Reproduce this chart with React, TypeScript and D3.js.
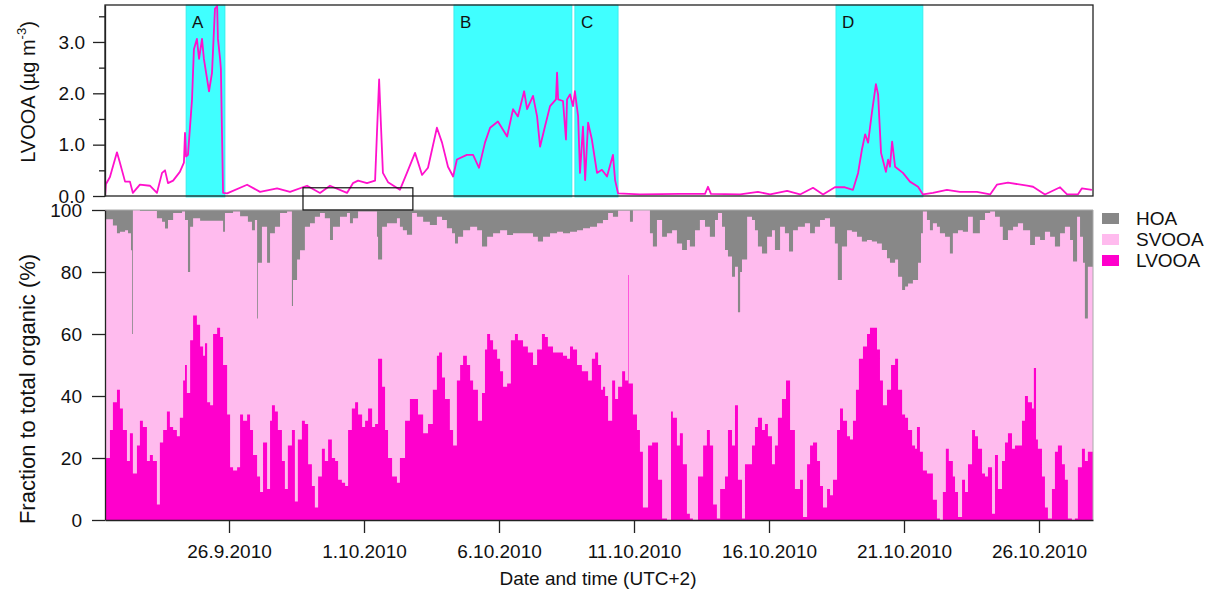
import React, { useEffect, useRef } from "react";
import * as d3 from "d3";

// time = days after 21.9.2010 00:00 (UTC+2)
const lvooaConc: [number, number][] = [
  [0.41, 0.0], [0.44, 0.23], [0.59, 0.37], [0.85, 0.85], [0.96, 0.65], [1.15, 0.28], [1.33, 0.28],
  [1.44, 0.06], [1.7, 0.22], [2.07, 0.2], [2.33, 0.06], [2.52, 0.45], [2.63, 0.5],
  [2.74, 0.25], [2.93, 0.3], [3.18, 0.47], [3.33, 0.65], [3.37, 1.23], [3.41, 0.77],
  [3.48, 0.8], [3.63, 1.88], [3.7, 2.86], [3.81, 3.06], [3.89, 2.67], [4.0, 3.06],
  [4.07, 2.67], [4.19, 2.27], [4.26, 2.04], [4.37, 2.4], [4.48, 3.65], [4.56, 3.7],
  [4.59, 3.06], [4.67, 2.67], [4.7, 2.47], [4.74, 1.23], [4.78, 0.06], [4.93, 0.05],
  [5.67, 0.22], [6.15, 0.08], [6.78, 0.15], [7.26, 0.08], [7.89, 0.2], [8.37, 0.06],
  [8.74, 0.2], [9.37, 0.06], [9.59, 0.25], [9.78, 0.3], [10.11, 0.25], [10.41, 0.3],
  [10.48, 1.23], [10.56, 2.27], [10.63, 1.35], [10.7, 0.45], [10.89, 0.27], [11.33, 0.12],
  [11.59, 0.45], [11.89, 0.84], [12.15, 0.41], [12.37, 0.55], [12.7, 1.33], [12.89, 1.04],
  [13.11, 0.57], [13.3, 0.38], [13.44, 0.71], [13.81, 0.8], [14.04, 0.8], [14.26, 0.55],
  [14.48, 1.04], [14.67, 1.33], [14.96, 1.45], [15.3, 1.16], [15.52, 1.69], [15.7, 1.55],
  [15.93, 2.04], [16.04, 1.69], [16.26, 1.95], [16.41, 1.55], [16.52, 0.96], [16.7, 1.35],
  [16.89, 1.75], [17.11, 1.88], [17.15, 2.4], [17.19, 1.88], [17.37, 1.85], [17.48, 1.1],
  [17.52, 1.88], [17.63, 1.98], [17.74, 1.75], [17.81, 2.04], [17.93, 1.55], [18.0, 0.45],
  [18.11, 1.35], [18.19, 0.31], [18.3, 1.43], [18.44, 1.1], [18.63, 0.45], [18.81, 0.51],
  [19.0, 0.38], [19.22, 0.8], [19.3, 0.31], [19.41, 0.05], [20.22, 0.03], [21.7, 0.04],
  [22.63, 0.04], [22.74, 0.18], [22.85, 0.04], [23.93, 0.03], [24.59, 0.08], [25.04, 0.03],
  [25.67, 0.1], [26.15, 0.03], [26.63, 0.16], [27.0, 0.03], [27.44, 0.17], [27.81, 0.17],
  [28.11, 0.12], [28.3, 0.45], [28.44, 0.9], [28.56, 1.2], [28.67, 1.04], [28.81, 1.62],
  [28.96, 2.18], [29.04, 1.98], [29.15, 0.84], [29.33, 0.47], [29.41, 0.71], [29.48, 0.57],
  [29.56, 1.06], [29.67, 0.57], [29.96, 0.45], [30.22, 0.28], [30.52, 0.18], [30.7, 0.03],
  [31.07, 0.06], [31.59, 0.12], [32.07, 0.08], [32.7, 0.08], [33.19, 0.03], [33.44, 0.22],
  [33.85, 0.26], [34.56, 0.2], [34.78, 0.18], [35.22, 0.03], [35.78, 0.17], [36.04, 0.03],
  [36.44, 0.03], [36.59, 0.15], [36.96, 0.12],
];

const lvooaFrac: [number, number][] = [
  [0.44, 20], [0.59, 29], [0.7, 38], [0.85, 42], [0.96, 36], [1.07, 29], [1.22, 19],
  [1.33, 28], [1.44, 15], [1.59, 24], [1.7, 32], [1.81, 30], [1.96, 19], [2.07, 21],
  [2.18, 19], [2.33, 5], [2.44, 25], [2.56, 29], [2.7, 35], [2.81, 30], [2.93, 29],
  [3.07, 27], [3.18, 33], [3.3, 45], [3.37, 50], [3.44, 41], [3.56, 58], [3.67, 66],
  [3.81, 63], [3.93, 56], [4.04, 53], [4.11, 57], [4.19, 38], [4.3, 37], [4.41, 60],
  [4.56, 62], [4.67, 59], [4.78, 50], [4.93, 34], [5.04, 17], [5.15, 16], [5.3, 17],
  [5.41, 34], [5.52, 32], [5.67, 34], [5.78, 29], [5.89, 21], [6.04, 14], [6.15, 9],
  [6.26, 25], [6.41, 10], [6.52, 32], [6.59, 37], [6.7, 35], [6.81, 29], [6.96, 19],
  [7.07, 10], [7.18, 24], [7.33, 29], [7.44, 6], [7.55, 26], [7.7, 32], [7.81, 31],
  [7.93, 18], [8.07, 11], [8.18, 4], [8.3, 14], [8.44, 23], [8.55, 19], [8.67, 26],
  [8.81, 20], [8.93, 19], [9.04, 13], [9.18, 12], [9.3, 11], [9.41, 29], [9.55, 36],
  [9.67, 38], [9.78, 34], [9.93, 30], [10.04, 32], [10.15, 36], [10.3, 30], [10.41, 31],
  [10.52, 52], [10.67, 43], [10.78, 29], [10.89, 20], [11.04, 14], [11.22, 12],
  [11.33, 20], [11.52, 32], [11.7, 39], [11.89, 39], [12.0, 34], [12.19, 28], [12.37, 31],
  [12.55, 42], [12.7, 53], [12.78, 54], [12.89, 46], [13.0, 39], [13.18, 29], [13.3, 24],
  [13.44, 45], [13.56, 50], [13.67, 53], [13.81, 50], [13.93, 45], [14.04, 42], [14.22, 32],
  [14.37, 41], [14.48, 55], [14.56, 60], [14.67, 58], [14.78, 55], [14.93, 52], [15.04, 48],
  [15.15, 43], [15.3, 44], [15.44, 58], [15.59, 60], [15.7, 58], [15.89, 56], [16.07, 54],
  [16.26, 50], [16.41, 55], [16.59, 60], [16.7, 59], [16.81, 56], [17.0, 54], [17.19, 54],
  [17.37, 53], [17.52, 52], [17.63, 56], [17.74, 55], [17.89, 50], [18.07, 48], [18.19, 48],
  [18.3, 45], [18.44, 52], [18.56, 54], [18.67, 50], [18.78, 42], [18.85, 43], [18.93, 40],
  [19.04, 32], [19.19, 45], [19.3, 39], [19.41, 43], [19.56, 48], [19.67, 45], [19.76, 45],
  [19.78, 79], [19.8, 44], [19.96, 34], [20.11, 29], [20.22, 22], [20.33, 4], [20.52, 24],
  [20.67, 25], [20.78, 25], [20.89, 13], [21.04, 0.5], [21.22, 0], [21.37, 35], [21.44, 33],
  [21.59, 24], [21.7, 28], [21.81, 18], [21.96, 2], [22.07, 0.5], [22.18, 0], [22.37, 14],
  [22.56, 24], [22.7, 29], [22.81, 24], [22.93, 5], [23.07, 0.5], [23.19, 10], [23.37, 14],
  [23.48, 29], [23.63, 24], [23.74, 37], [23.85, 13], [24.0, 0.5], [24.11, 18], [24.22, 18],
  [24.37, 24], [24.48, 30], [24.59, 33], [24.74, 29], [24.85, 31], [24.96, 27], [25.11, 18],
  [25.22, 24], [25.33, 33], [25.48, 39], [25.63, 45], [25.78, 29], [25.96, 10], [26.15, 13],
  [26.26, 1], [26.41, 18], [26.52, 24], [26.63, 25], [26.78, 19], [26.89, 11], [27.0, 4],
  [27.15, 10], [27.26, 8], [27.37, 13], [27.52, 29], [27.63, 36], [27.74, 32], [27.89, 27],
  [28.0, 26], [28.11, 32], [28.22, 42], [28.33, 52], [28.48, 56], [28.63, 60], [28.74, 62],
  [28.85, 62], [29.0, 55], [29.11, 45], [29.22, 37], [29.37, 42], [29.52, 50], [29.67, 52],
  [29.78, 42], [29.93, 34], [30.04, 33], [30.15, 29], [30.3, 24], [30.41, 23], [30.48, 30],
  [30.59, 22], [30.7, 16], [30.85, 15], [30.96, 15], [31.07, 6.5], [31.22, 0.5], [31.33, 0],
  [31.44, 9], [31.55, 23], [31.66, 19], [31.81, 14], [31.89, 9], [32.0, 1], [32.15, 13],
  [32.26, 9], [32.37, 18], [32.52, 29], [32.63, 27], [32.74, 23], [32.89, 15], [33.0, 14],
  [33.11, 17], [33.26, 2], [33.37, 21], [33.48, 10], [33.63, 19], [33.74, 25], [33.85, 28],
  [34.0, 23], [34.11, 24], [34.22, 24], [34.37, 32], [34.48, 40], [34.59, 38], [34.74, 36],
  [34.81, 49], [34.89, 26], [34.96, 23], [35.11, 14], [35.22, 4], [35.33, 0.5], [35.48, 10],
  [35.59, 22], [35.7, 24], [35.85, 18], [35.96, 13], [36.07, 0.5], [36.22, 0], [36.33, 0.5],
  [36.44, 17], [36.59, 23], [36.7, 19], [36.81, 22], [37.0, 17],
];

const hoaFrac: [number, number][] = [
  [0.44, 3], [0.59, 3], [0.7, 5], [0.85, 7.5], [0.96, 7], [1.15, 6.5], [1.26, 7.5],
  [1.37, 13], [1.41, 40], [1.44, 0], [1.7, 0.3], [2.18, 0.3], [2.33, 2.7], [2.52, 3.8],
  [2.63, 6], [2.74, 3.2], [2.93, 1], [3.26, 0.5], [3.37, 3.2], [3.48, 20], [3.56, 5.4],
  [3.67, 2.7], [3.93, 3.5], [4.67, 3.5], [4.78, 7], [4.85, 1], [5.15, 0.5], [5.41, 2],
  [5.7, 3.8], [5.85, 6.5], [5.96, 3.2], [6.04, 35], [6.07, 17], [6.22, 5.4], [6.41, 17],
  [6.52, 7.5], [6.7, 5.4], [6.89, 1], [7.15, 0.5], [7.33, 31], [7.37, 22.6], [7.52, 16],
  [7.63, 13], [7.81, 5.4], [8.0, 4.3], [8.18, 2.2], [8.37, 1], [8.55, 2.7], [8.74, 9.7],
  [8.85, 5.4], [9.11, 2.2], [9.37, 1], [9.48, 4.3], [9.59, 2.7], [9.78, 0.5], [10.22, 0.5],
  [10.48, 8.6], [10.52, 16], [10.67, 5.4], [10.85, 4.3], [11.04, 4.3], [11.22, 2.7],
  [11.33, 5.4], [11.44, 6.5], [11.59, 8], [11.78, 1], [11.96, 2.2], [12.19, 3.8], [12.44, 4.8],
  [12.7, 2.2], [12.89, 3.2], [13.07, 5.9], [13.26, 7.5], [13.37, 10.8], [13.48, 8.6],
  [13.67, 6.5], [13.93, 5.4], [14.19, 6.5], [14.37, 11.8], [14.56, 8.6], [14.78, 7.5],
  [15.04, 6.5], [15.3, 8.1], [15.52, 7.5], [15.78, 7.5], [16.04, 7.5], [16.26, 8.6],
  [16.44, 10.2], [16.63, 8.6], [16.89, 7.5], [17.15, 7], [17.37, 7.5], [17.63, 7],
  [17.89, 6.5], [18.11, 5.9], [18.37, 5.4], [18.63, 4.3], [18.85, 3.2], [19.04, 1],
  [19.22, 2.2], [19.41, 0.2], [19.85, 3.8], [19.96, 0], [20.48, 0], [20.59, 7.5],
  [20.7, 11.8], [20.85, 3.2], [21.04, 8.6], [21.22, 7.5], [21.41, 6.5], [21.59, 10.8],
  [21.78, 12.9], [21.96, 9.7], [22.07, 11.8], [22.26, 6.5], [22.44, 3.2], [22.63, 5.4],
  [22.81, 8.6], [23.0, 3.2], [23.11, 1], [23.26, 5.4], [23.37, 12.9], [23.48, 15],
  [23.63, 21.5], [23.74, 18.3], [23.85, 33], [23.93, 20], [24.0, 16], [24.19, 2.2],
  [24.37, 3.2], [24.48, 6.5], [24.59, 11.8], [24.74, 14], [24.93, 8.6], [25.11, 6.5],
  [25.22, 12.9], [25.41, 5.4], [25.59, 7.5], [25.74, 13.4], [25.89, 6.5], [26.07, 5.4],
  [26.15, 5.4], [26.33, 4.3], [26.52, 7.5], [26.7, 5.4], [26.89, 3.2], [27.07, 2.7],
  [27.26, 5.4], [27.44, 10.8], [27.55, 22.6], [27.7, 11.8], [27.89, 6.5], [28.07, 7],
  [28.26, 8.6], [28.44, 10.2], [28.63, 9.7], [28.81, 10.2], [29.0, 10.8], [29.18, 12.9],
  [29.37, 15.6], [29.48, 17], [29.67, 16], [29.78, 21.5], [29.93, 25.8], [30.04, 24.7],
  [30.15, 23.7], [30.33, 22.6], [30.52, 17], [30.63, 7.5], [30.7, 0.5], [30.85, 3.2],
  [30.96, 6.5], [31.07, 4.3], [31.22, 5.4], [31.33, 7.5], [31.52, 8.6], [31.7, 14],
  [31.81, 7.5], [32.0, 6.5], [32.18, 7], [32.37, 2.2], [32.55, 7.5], [32.81, 3.2], [33.0, 1],
  [33.19, 0.5], [33.37, 2.2], [33.55, 5.4], [33.66, 9.7], [33.85, 6.5], [34.04, 5.4],
  [34.22, 4.3], [34.41, 6.5], [34.67, 11.3], [34.85, 8.6], [35.04, 9.7], [35.22, 7],
  [35.41, 8.6], [35.59, 11.8], [35.78, 7.5], [35.96, 5.4], [36.15, 9.7], [36.26, 16.6],
  [36.41, 2.2], [36.52, 8.6], [36.63, 17], [36.7, 35], [36.81, 18.3], [37.0, 7.5],
];

const episodeNames = ["A", "B", "C", "D"];
const episodeStart = [3.41, 13.33, 17.81, 27.48];
const episodeEnd = [4.85, 17.7, 19.41, 30.7];

const zoomBoxDays = [7.74, 11.81];
const zoomBoxTop = 0.16;

const dayStart = 0.407;
const dayEnd = 37;
const xTickDays = [5, 10, 15, 20, 25, 30, 35];
const concTicks = [0, 1, 2, 3];
const concMinorTicks = [0.5, 1.5, 2.5, 3.5];
const fracTicks = [0, 20, 40, 60, 80, 100];

const legendNames = ["HOA", "SVOOA", "LVOOA"];
const legendColors = ["#888888", "#ffbbee", "#ff00cc"];

const t0 = Date.UTC(2010, 8, 21);
const toDate = (d: number) => new Date(t0 + d * 86400000);
const FONT = "'Liberation Sans', Arial, sans-serif";

const App = () => {
  const svgRef = useRef<SVGSVGElement | null>(null);

  useEffect(() => {
    const width = 1217;
    const height = 596;
    const left = 105;
    const right = 1093;

    const svg = d3.select(svgRef.current);
    svg.selectAll("*").remove();

    const x = d3
      .scaleUtc()
      .domain([toDate(dayStart), toDate(dayEnd)])
      .range([left, right]);
    const yc = d3.scaleLinear().domain([0, 3.72]).range([196, 5]);
    const yf = d3.scaleLinear().domain([0, 100]).range([520, 210]);

    const defs = svg.append("defs");
    defs
      .append("clipPath")
      .attr("id", "clipTop")
      .append("rect")
      .attr("x", left)
      .attr("y", 5)
      .attr("width", right - left)
      .attr("height", 191);
    defs
      .append("clipPath")
      .attr("id", "clipBot")
      .append("rect")
      .attr("x", left)
      .attr("y", 210)
      .attr("width", right - left)
      .attr("height", 310);

    // ---- top panel
    const top = svg.append("g");
    top
      .selectAll("rect.ep")
      .data(episodeNames)
      .join("rect")
      .attr("class", "ep")
      .attr("x", (_, i) => x(toDate(episodeStart[i])))
      .attr("y", 5)
      .attr("width", (_, i) => x(toDate(episodeEnd[i])) - x(toDate(episodeStart[i])))
      .attr("height", 192)
      .attr("fill", "#40ffff")
      .attr("stroke", "#30e8e8")
      .attr("stroke-width", 0.8);

    top
      .selectAll("text.ep")
      .data(episodeNames)
      .join("text")
      .attr("class", "ep")
      .attr("x", (_, i) => x(toDate(episodeStart[i])) + 6)
      .attr("y", 28)
      .attr("font-family", FONT)
      .attr("font-size", 17)
      .attr("fill", "#111")
      .text((d) => d);

    const line = d3
      .line<[number, number]>()
      .x((d) => x(toDate(d[0])))
      .y((d) => yc(d[1]));
    top
      .append("path")
      .attr("clip-path", "url(#clipTop)")
      .attr("d", line(lvooaConc))
      .attr("fill", "none")
      .attr("stroke", "#ff11cc")
      .attr("stroke-width", 1.8)
      .attr("stroke-linejoin", "round");

    top
      .append("rect")
      .attr("x", left)
      .attr("y", 5)
      .attr("width", right - left)
      .attr("height", 191)
      .attr("fill", "none")
      .attr("stroke", "#222")
      .attr("stroke-width", 1.3);

    const axC = top
      .append("g")
      .attr("transform", `translate(${left},0)`)
      .call(
        d3
          .axisLeft(yc)
          .tickValues(concTicks)
          .tickFormat(d3.format(".1f"))
          .tickSize(12)
          .tickSizeOuter(0)
          .tickPadding(8)
      );
    top
      .append("g")
      .attr("transform", `translate(${left},0)`)
      .call(
        d3
          .axisLeft(yc)
          .tickValues(concMinorTicks)
          .tickFormat(() => "")
          .tickSize(6)
          .tickSizeOuter(0)
      )
      .call((g) => g.select(".domain").remove())
      .selectAll("line")
      .attr("stroke", "#222")
      .attr("stroke-width", 1.3);
    axC.selectAll("line,path").attr("stroke", "#222").attr("stroke-width", 1.3);
    axC.selectAll("text").attr("font-family", FONT).attr("font-size", 19).attr("fill", "#111");

    const yTitle = top
      .append("text")
      .attr("transform", "translate(35,92) rotate(-90)")
      .attr("text-anchor", "middle")
      .attr("font-family", FONT)
      .attr("font-size", 20)
      .attr("fill", "#111");
    yTitle.append("tspan").text("LVOOA (µg m");
    yTitle.append("tspan").attr("font-size", 13).attr("dy", -9).text("-3");
    yTitle.append("tspan").attr("dy", 9).text(")");

    // ---- bottom panel
    const bot = svg.append("g");
    const full = d3
      .area<number>()
      .x((d) => x(toDate(d)))
      .y0(yf(0))
      .y1(yf(100));
    bot
      .append("path")
      .attr("d", full([dayStart, dayEnd]))
      .attr("fill", legendColors[1]);

    const hoaArea = d3
      .area<[number, number]>()
      .curve(d3.curveStepAfter)
      .x((d) => x(toDate(d[0])))
      .y0((d) => yf(100 - d[1]))
      .y1(yf(100));
    bot
      .append("path")
      .attr("clip-path", "url(#clipBot)")
      .attr("d", hoaArea(hoaFrac))
      .attr("fill", legendColors[0]);

    const lvArea = d3
      .area<[number, number]>()
      .curve(d3.curveStepAfter)
      .x((d) => x(toDate(d[0])))
      .y0(yf(0))
      .y1((d) => yf(d[1]));
    bot
      .append("path")
      .attr("clip-path", "url(#clipBot)")
      .attr("d", lvArea(lvooaFrac))
      .attr("fill", legendColors[2]);

    bot
      .append("path")
      .attr("d", `M${left},${yf(100)}H${right}V${yf(0)}`)
      .attr("fill", "none")
      .attr("stroke", "#aaa")
      .attr("stroke-width", 1);

    const axF = bot
      .append("g")
      .attr("transform", `translate(${left},0)`)
      .call(
        d3.axisLeft(yf).tickValues(fracTicks).tickSize(13).tickSizeOuter(0).tickPadding(10)
      );
    axF.selectAll("line,path").attr("stroke", "#222").attr("stroke-width", 1.3);
    axF.selectAll("text").attr("font-family", FONT).attr("font-size", 19).attr("fill", "#111");

    const axX = bot
      .append("g")
      .attr("transform", `translate(0,${yf(0)})`)
      .call(
        d3
          .axisBottom(x)
          .tickValues(xTickDays.map(toDate))
          .tickFormat((d) => d3.utcFormat("%-d.%-m.%Y")(d as Date))
          .tickSize(13)
          .tickSizeOuter(0)
          .tickPadding(12)
      );
    axX.selectAll("line,path").attr("stroke", "#222").attr("stroke-width", 1.3);
    axX.selectAll("text").attr("font-family", FONT).attr("font-size", 19).attr("fill", "#111");

    bot
      .append("text")
      .attr("x", 598)
      .attr("y", 585)
      .attr("text-anchor", "middle")
      .attr("font-family", FONT)
      .attr("font-size", 19)
      .attr("fill", "#111")
      .text("Date and time (UTC+2)");

    bot
      .append("text")
      .attr("transform", "translate(35,389) rotate(-90)")
      .attr("text-anchor", "middle")
      .attr("font-family", FONT)
      .attr("font-size", 22)
      .attr("fill", "#111")
      .text("Fraction to total organic (%)");

    // zoom box spanning both panels
    svg
      .append("rect")
      .attr("x", x(toDate(zoomBoxDays[0])))
      .attr("y", yc(zoomBoxTop))
      .attr("width", x(toDate(zoomBoxDays[1])) - x(toDate(zoomBoxDays[0])))
      .attr("height", yf(100) - yc(zoomBoxTop))
      .attr("fill", "none")
      .attr("stroke", "#111")
      .attr("stroke-width", 1.2);

    // legend
    const leg = svg
      .append("g")
      .selectAll("g")
      .data(legendNames)
      .join("g")
      .attr("transform", (_, i) => `translate(1102,${213 + i * 21})`);
    leg
      .append("rect")
      .attr("width", 17)
      .attr("height", 11)
      .attr("fill", (_, i) => legendColors[i]);
    leg
      .append("text")
      .attr("x", 34)
      .attr("y", 5.5)
      .attr("dy", "0.35em")
      .attr("font-family", FONT)
      .attr("font-size", 19)
      .attr("fill", "#111")
      .text((d) => d);

    svg.attr("width", width).attr("height", height);
  }, []);

  return (
    <svg
      ref={svgRef}
      width={1217}
      height={596}
      style={{ position: "absolute", left: 0, top: 0, background: "#fff" }}
    />
  );
};

export default App;
